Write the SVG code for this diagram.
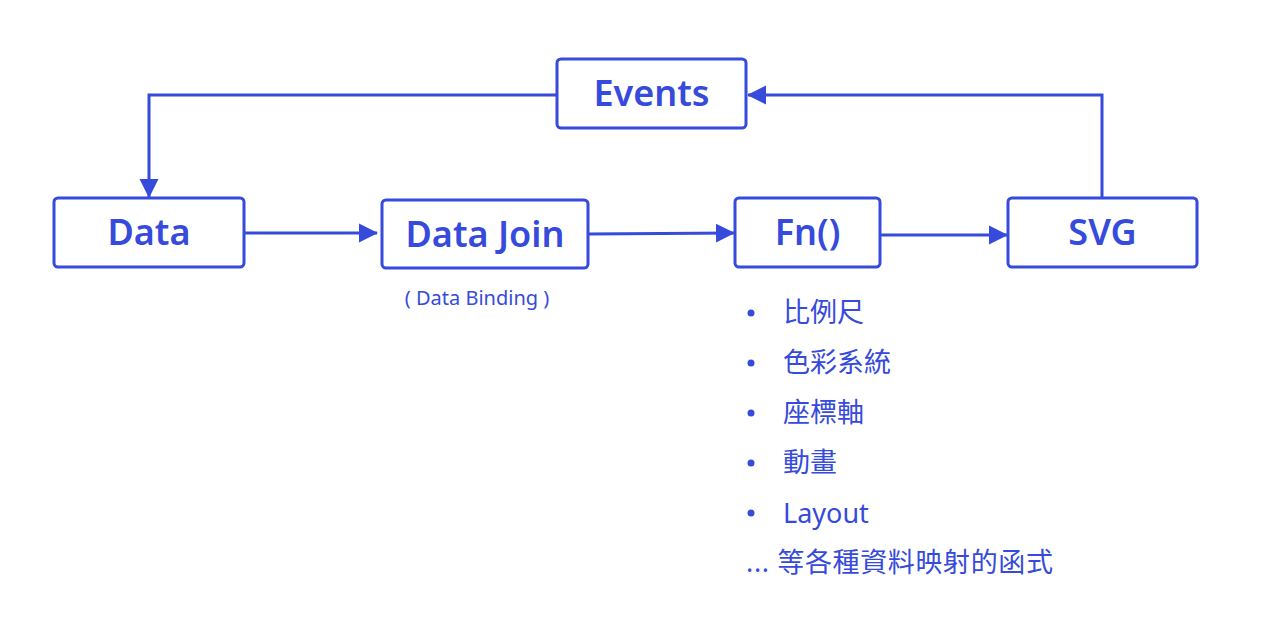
<svg xmlns="http://www.w3.org/2000/svg" width="1261" height="619" viewBox="0 0 1261 619">
<style>
.box{fill:#fff;stroke:#364ADB;stroke-width:3}
.lbl{font-family:"Noto Sans","Open Sans","Liberation Sans",sans-serif;font-weight:600;font-size:36px;fill:#364ADB;text-anchor:middle}
.conn{fill:none;stroke:#364ADB;stroke-width:3}
.sub{font-family:"Noto Sans","Liberation Sans",sans-serif;font-size:20px;fill:#364ADB;text-anchor:middle}
.item{font-family:"Noto Sans","Noto Sans CJK TC",sans-serif;font-size:27px;fill:#364ADB}
</style>
<defs>
<marker id="a" markerWidth="20" markerHeight="20" refX="18" refY="10" orient="auto" markerUnits="userSpaceOnUse" viewBox="0 0 20 20">
<path d="M0,0.5 L19,10 L0,19.5 z" fill="#364ADB"/>
</marker>
</defs>
<rect width="1261" height="619" fill="#fff"/>
<g id="connectors">
<path class="conn" d="M557,95 H149 V197" marker-end="url(#a)"/>
<path class="conn" d="M244,233 H377" marker-end="url(#a)"/>
<path class="conn" d="M588,234 L734,233" marker-end="url(#a)"/>
<path class="conn" d="M880,235 H1007" marker-end="url(#a)"/>
<path class="conn" d="M1102,198 V95 H748" marker-end="url(#a)"/>
</g>
<g id="events"><rect class="box" x="557" y="59" width="189" height="69" rx="4"/><text class="lbl" x="651.5" y="106">Events</text></g>
<g id="data"><rect class="box" x="54" y="198" width="190" height="69" rx="4"/><text class="lbl" x="149" y="245">Data</text></g>
<g id="datajoin"><rect class="box" x="382" y="200" width="206" height="68" rx="4"/><text class="lbl" x="485" y="247">Data Join</text>
<text class="sub" x="477" y="305">( Data Binding )</text></g>
<g id="fn"><rect class="box" x="735" y="198" width="145" height="69" rx="4"/><text class="lbl" x="807.5" y="245">Fn()</text></g>
<g id="svg"><rect class="box" x="1008" y="198" width="189" height="69" rx="4"/><text class="lbl" x="1102.5" y="245">SVG</text></g>
<g id="list">
<circle cx="751" cy="313" r="3.5" fill="#364ADB"/>
<circle cx="751" cy="363" r="3.5" fill="#364ADB"/>
<circle cx="751" cy="413" r="3.5" fill="#364ADB"/>
<circle cx="751" cy="463" r="3.5" fill="#364ADB"/>
<circle cx="751" cy="513" r="3.5" fill="#364ADB"/>
<text class="item" x="783" y="322">比例尺</text>
<text class="item" x="783" y="372">色彩系統</text>
<text class="item" x="783" y="422">座標軸</text>
<text class="item" x="783" y="472">動畫</text>
<text class="item" x="783" y="523" font-size="28">Layout</text>
<text class="item" x="746" y="572" textLength="307">... 等各種資料映射的函式</text>
</g>
</svg>
